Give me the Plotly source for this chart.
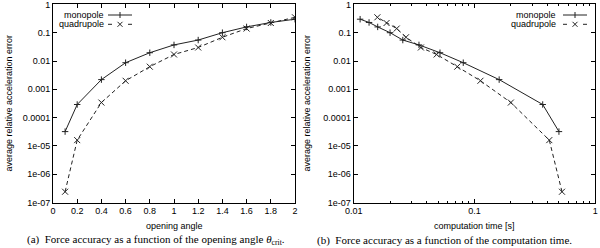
import plotly.graph_objects as go

# ---- data ----
angle = [0.1, 0.2, 0.4, 0.6, 0.8, 1.0, 1.2, 1.4, 1.6, 1.8, 2.0]
mono_err = [3.2e-5, 2.9e-4, 2.2e-3, 8.7e-3, 0.0196, 0.037, 0.055, 0.10, 0.16, 0.23, 0.30]
quad_err = [2.4e-7, 1.6e-5, 3.4e-4, 2.0e-3, 6.3e-3, 0.017, 0.030, 0.069, 0.14, 0.22, 0.35]
mono_time = [0.50, 0.367, 0.16, 0.0807, 0.0518, 0.0347, 0.0255, 0.020, 0.0158, 0.0134, 0.0113]
quad_time = [0.53, 0.416, 0.20, 0.112, 0.072, 0.0486, 0.036, 0.0271, 0.0227, 0.0187, 0.0157]

y_tickvals = [1, 0.1, 0.01, 0.001, 0.0001, 1e-5, 1e-6, 1e-7]
y_ticktext = ["1", "0.1", "0.01", "0.001", "0.0001", "1e-05", "1e-06", "1e-07"]
x1_tickvals = [0, 0.2, 0.4, 0.6, 0.8, 1, 1.2, 1.4, 1.6, 1.8, 2]
x1_ticktext = ["0", "0.2", "0.4", "0.6", "0.8", "1", "1.2", "1.4", "1.6", "1.8", "2"]
x2_tickvals = [0.01, 0.1, 1]
x2_ticktext = ["0.01", "0.1", "1"]
x2_minor = [k * 0.01 for k in range(2, 10)] + [k * 0.1 for k in range(2, 10)]

W, H = 600, 248
FONT = "Liberation Sans, Arial, sans-serif"
SERIF = "Liberation Serif, Times New Roman, serif"
LC = "#222222"

def px(x):
    return x / W

def py(y):
    return 1 - y / H

xl0, xl1 = 53, 295
xr0, xr1 = 353.7, 595.3
yt, yb = 4.4, 202.5

fig = go.Figure()

mono_style = dict(mode="lines+markers", line=dict(color=LC, width=1),
                  marker=dict(symbol="cross-thin", size=4.6, line=dict(color=LC, width=1)),
                  showlegend=False, hoverinfo="skip")
quad_style = dict(mode="lines+markers", line=dict(color=LC, width=1, dash="4px,3px"),
                  marker=dict(symbol="x-thin", size=6, line=dict(color=LC, width=1)),
                  showlegend=False, hoverinfo="skip")

fig.add_trace(go.Scatter(x=angle, y=mono_err, xaxis="x", yaxis="y", **mono_style))
fig.add_trace(go.Scatter(x=angle, y=quad_err, xaxis="x", yaxis="y", **quad_style))
fig.add_trace(go.Scatter(x=mono_time, y=mono_err, xaxis="x2", yaxis="y2", **mono_style))
fig.add_trace(go.Scatter(x=quad_time, y=quad_err, xaxis="x2", yaxis="y2", **quad_style))

shapes = []
def seg(x0, y0, x1, y1, dash="solid"):
    shapes.append(dict(type="line", xref="paper", yref="paper",
                       x0=px(x0), y0=py(y0), x1=px(x1), y1=py(y1),
                       line=dict(color=LC, width=1, dash=dash)))

def legend_sample(x0, x1, y, kind):
    c = (x0 + x1) / 2
    if kind == "mono":
        seg(x0, y, x1, y)
        seg(c, y - 3, c, y + 3)
    else:
        seg(x0, y, x0 + 4, y)
        seg(x1 - 4, y, x1, y)
        seg(c - 2.5, y - 2.5, c + 2.5, y + 2.5)
        seg(c - 2.5, y + 2.5, c + 2.5, y - 2.5)

legend_sample(108, 132, 15, "mono")
legend_sample(108, 132, 24.3, "quad")
legend_sample(563, 587, 15, "mono")
legend_sample(563, 587, 24.3, "quad")

common = dict(showline=True, linecolor="black", linewidth=1, mirror="allticks",
              ticks="inside", ticklen=4, tickcolor="black", tickwidth=1,
              showgrid=False, zeroline=False, ticklabeloverflow="allow",
              tickfont=dict(family=FONT, size=9, color="black"))

fig.update_layout(
    width=W, height=H,
    margin=dict(l=0, r=0, t=0, b=0, autoexpand=False),
    paper_bgcolor="white", plot_bgcolor="white",
    xaxis=dict(domain=[px(xl0), px(xl1)], range=[0, 2], tickmode="array", tickvals=x1_tickvals,
               ticktext=x1_ticktext, anchor="y", **common),
    yaxis=dict(domain=[py(yb), py(yt)], type="log", range=[-7, 0], tickmode="array",
               tickvals=y_tickvals, ticktext=y_ticktext, anchor="x", **common),
    xaxis2=dict(domain=[px(xr0), px(xr1)], type="log", range=[-2, 0], tickmode="array",
                tickvals=x2_tickvals, ticktext=x2_ticktext, anchor="y2",
                minor=dict(tickmode="array", tickvals=x2_minor, ticks="inside", ticklen=2,
                           tickcolor="black", showgrid=False),
                **common),
    yaxis2=dict(domain=[py(yb), py(yt)], type="log", range=[-7, 0], tickmode="array",
                tickvals=y_tickvals, ticktext=y_ticktext, anchor="x2", **common),
    shapes=shapes,
)

ann = []
def text(x, y, t, xanchor="center", size=9, family=FONT, angle=0):
    ann.append(dict(x=px(x), y=py(y), xref="paper", yref="paper", text=t, showarrow=False,
                    xanchor=xanchor, yanchor="middle", textangle=angle,
                    font=dict(family=family, size=size, color="black")))

text(106, 15, "monopole", xanchor="right")
text(106, 24.3, "quadrupole", xanchor="right")
text(558, 15, "monopole", xanchor="right")
text(558, 24.3, "quadrupole", xanchor="right")
text(174, 226, "opening angle")
text(474.5, 226, "computation time [s]")
text(8, 103.5, "average relative acceleration error", angle=-90)
text(306, 103.5, "average relative acceleration error", angle=-90)
text(156, 240, "(a)  Force accuracy as a function of the opening angle <i>θ</i><sub>crit</sub>.", size=11, family=SERIF)
text(444, 240, "(b)  Force accuracy as a function of the computation time.", size=11, family=SERIF)
fig.update_layout(annotations=ann)

fig.write_html("out.html", config={"displayModeBar": False},
               post_script="document.body.style.margin='0';document.body.style.padding='0';")
